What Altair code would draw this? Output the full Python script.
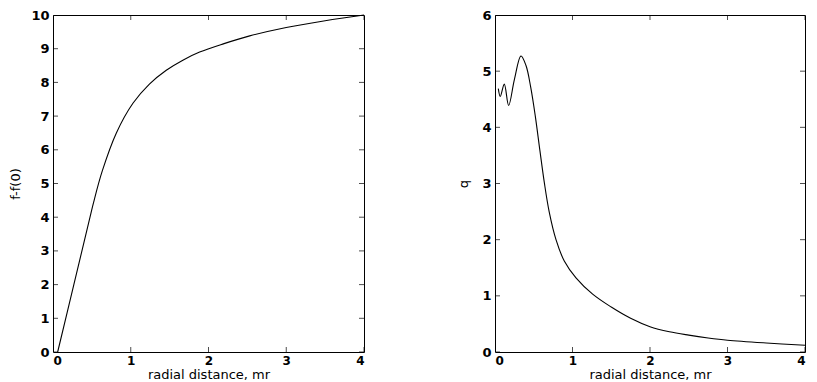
import altair as alt
import pandas as pd

# ---- data ----
x_ticks = [0, 1, 2, 3, 4]

# left panel: f - f(0) vs radial distance
f_x = [0.06, 0.268, 0.476, 0.523, 0.635, 0.815, 1.028, 1.24, 1.457, 1.67,
       1.886, 2.2, 2.53, 3.0, 3.5, 4.0]
f_y = [0.0, 2.0, 4.0, 4.45, 5.38, 6.5, 7.38, 7.95, 8.36, 8.66,
       8.9, 9.15, 9.38, 9.63, 9.83, 10.0]
f_yticks = [0, 1, 2, 3, 4, 5, 6, 7, 8, 9, 10]

# right panel: q vs radial distance
q_x = [0.043, 0.068, 0.12, 0.176, 0.25, 0.335, 0.40, 0.46, 0.52, 0.58,
       0.636, 0.70, 0.787, 0.894, 1.045, 1.26, 1.5, 1.75, 2.0, 2.25, 2.5,
       2.75, 3.0, 3.5, 4.0]
q_y = [4.69, 4.55, 4.77, 4.39, 4.85, 5.27, 5.1, 4.72, 4.2, 3.58,
       3.02, 2.49, 2.0, 1.62, 1.32, 1.03, 0.8, 0.6, 0.45, 0.36, 0.3,
       0.25, 0.21, 0.16, 0.12]
q_yticks = [0, 1, 2, 3, 4, 5, 6]

x_title = "radial distance, mr"


def panel(xs, ys, yticks, ytitle, width, y_extent, y_title_pad):
    xmax = x_ticks[-1]
    ymax = yticks[-1]
    xscale = alt.Scale(domain=[0, xmax], nice=False, zero=False)
    yscale = alt.Scale(domain=[0, ymax], nice=False, zero=False)
    xaxis = alt.Axis(values=x_ticks, format="d", title=x_title,
                     labelPadding=3, titlePadding=2)
    yaxis = alt.Axis(values=yticks, format="d", title=ytitle,
                     labelPadding=4, labelFontSize=13,
                     minExtent=y_extent, maxExtent=y_extent,
                     titlePadding=y_title_pad)

    df = pd.DataFrame({"x": xs, "y": ys})
    line = alt.Chart(df).mark_line(
        color="black", strokeWidth=1.1, interpolate="catmull-rom"
    ).encode(
        x=alt.X("x:Q", scale=xscale, axis=xaxis),
        y=alt.Y("y:Q", scale=yscale, axis=yaxis),
    )

    xt = pd.DataFrame({"t": x_ticks * 2,
                       "e": [0] * len(x_ticks) + [ymax] * len(x_ticks)})
    xtick = alt.Chart(xt).mark_tick(
        orient="vertical", size=10, thickness=1, color="black", clip=True
    ).encode(
        x=alt.X("t:Q", scale=xscale, axis=xaxis),
        y=alt.Y("e:Q", scale=yscale, axis=yaxis),
    )

    yt = pd.DataFrame({"t": yticks * 2,
                       "e": [0] * len(yticks) + [xmax] * len(yticks)})
    ytick = alt.Chart(yt).mark_tick(
        orient="horizontal", size=10, thickness=1, color="black", clip=True
    ).encode(
        x=alt.X("e:Q", scale=xscale, axis=xaxis),
        y=alt.Y("t:Q", scale=yscale, axis=yaxis),
    )

    return alt.layer(line, xtick, ytick).properties(width=width, height=337)


left = panel(f_x, f_y, f_yticks, "f-f(0)", 311, 26, 5)
right = panel(q_x, q_y, q_yticks, "q", 310, 19, 6)

chart = alt.hconcat(left, right, spacing=131, bounds="flush").properties(
    padding={"left": 0, "top": 0, "right": 0, "bottom": 0}
).configure_view(
    stroke="black", strokeWidth=1
).configure_axis(
    domain=False, ticks=False, grid=False,
    labelFont="DejaVu Sans", labelFontSize=12, labelFontWeight="bold",
    labelColor="black",
    titleFont="DejaVu Sans", titleFontSize=13, titleFontWeight="normal",
    titleColor="black",
)

chart.save("out.html", embed_options={"renderer": "svg", "actions": False})
